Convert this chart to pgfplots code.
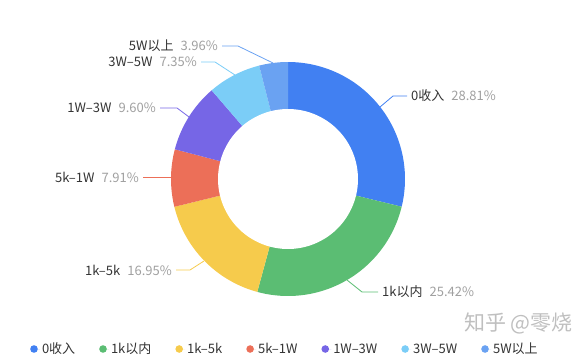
\documentclass[border=0pt]{standalone}
\usepackage{pgfplots}
\pgfplotsset{compat=1.18}
\usepackage{fontspec}
\setmainfont{Noto Sans CJK SC}
\definecolor{c0}{HTML}{4180F2}
\definecolor{c1}{HTML}{5BBD73}
\definecolor{c2}{HTML}{F6CB4C}
\definecolor{c3}{HTML}{EC6F58}
\definecolor{c4}{HTML}{7666E6}
\definecolor{c5}{HTML}{7BCDF7}
\definecolor{c6}{HTML}{6AA2F2}
\definecolor{txt}{HTML}{333333}
\definecolor{pct}{HTML}{A0A0A0}
\newcommand{\lf}{\fontsize{13}{15}\selectfont}
\newcommand{\lab}[2]{{\color{txt}#1}\hspace{7pt}{\color{pct}#2}}
% shares (%): 0收入 28.81, 1k以内 25.42, 1k-5k 16.95, 5k-1W 7.91, 1W-3W 9.60, 3W-5W 7.35, 5W以上 3.96
% cumulative: 28.81, 54.23, 71.18, 79.09, 88.69, 96.04, 100
\begin{document}
\begin{tikzpicture}
\begin{axis}[
  scale only axis, width=576pt, height=356pt,
  xmin=0, xmax=576, ymin=0, ymax=356, y dir=reverse,
  hide axis, clip=false,
  legend columns=-1,
  legend image code/.code={\fill (0pt,0pt) circle (3.8pt); \path (-3.8pt,0pt) -- (6pt,0pt);},
  legend style={at={(axis cs:27,349)}, anchor=west, draw=none, fill=none,
    font=\lf, text=txt,
    /tikz/every even column/.append style={column sep=22pt}},
]
\addplot[fill=c0, draw=none, domain=0:3.6*28.81, samples=80] ({288+117*sin(x)},{179-117*cos(x)}) -- (axis cs:288,179) -- cycle;
\addlegendentry{0收入}
\addplot[fill=c1, draw=none, domain=3.6*28.81:3.6*54.23, samples=80] ({288+117*sin(x)},{179-117*cos(x)}) -- (axis cs:288,179) -- cycle;
\addlegendentry{1k以内}
\addplot[fill=c2, draw=none, domain=3.6*54.23:3.6*71.18, samples=60] ({288+117*sin(x)},{179-117*cos(x)}) -- (axis cs:288,179) -- cycle;
\addlegendentry{1k–5k}
\addplot[fill=c3, draw=none, domain=3.6*71.18:3.6*79.09, samples=40] ({288+117*sin(x)},{179-117*cos(x)}) -- (axis cs:288,179) -- cycle;
\addlegendentry{5k–1W}
\addplot[fill=c4, draw=none, domain=3.6*79.09:3.6*88.69, samples=40] ({288+117*sin(x)},{179-117*cos(x)}) -- (axis cs:288,179) -- cycle;
\addlegendentry{1W–3W}
\addplot[fill=c5, draw=none, domain=3.6*88.69:3.6*96.04, samples=40] ({288+117*sin(x)},{179-117*cos(x)}) -- (axis cs:288,179) -- cycle;
\addlegendentry{3W–5W}
\addplot[fill=c6, draw=none, domain=3.6*96.04:3.6*100, samples=30] ({288+117*sin(x)},{179-117*cos(x)}) -- (axis cs:288,179) -- cycle;
\addlegendentry{5W以上}
\addplot[fill=white, draw=none, domain=0:360, samples=120, forget plot] ({288+70*sin(x)},{179-70*cos(x)}) -- cycle;

% leader lines
\draw[c0, line width=0.8pt] (axis cs:380,107) -- (axis cs:393,96) -- (axis cs:407,96);
\draw[c1, line width=0.8pt] (axis cs:347,280) -- (axis cs:362,292) -- (axis cs:378,292);
\draw[c2, line width=0.8pt] (axis cs:204,261) -- (axis cs:190,270) -- (axis cs:176,270);
\draw[c3, line width=0.8pt] (axis cs:172,177) -- (axis cs:143,177);
\draw[c4, line width=0.8pt] (axis cs:189,117) -- (axis cs:177,108) -- (axis cs:160,108);
\draw[c5, line width=0.8pt] (axis cs:235,75) -- (axis cs:215,62) -- (axis cs:201,62);
\draw[c6, line width=0.8pt] (axis cs:273,63) -- (axis cs:238,46) -- (axis cs:222,46);

% labels
\node[anchor=west, inner sep=0pt, font=\lf] at (axis cs:411,96) {\lab{0收入}{28.81\%}};
\node[anchor=west, inner sep=0pt, font=\lf] at (axis cs:382,292) {\lab{1k以内}{25.42\%}};
\node[anchor=east, inner sep=0pt, font=\lf] at (axis cs:172,270) {\lab{1k–5k}{16.95\%}};
\node[anchor=east, inner sep=0pt, font=\lf] at (axis cs:139,177) {\lab{5k–1W}{7.91\%}};
\node[anchor=east, inner sep=0pt, font=\lf] at (axis cs:156,108) {\lab{1W–3W}{9.60\%}};
\node[anchor=east, inner sep=0pt, font=\lf] at (axis cs:197,62) {\lab{3W–5W}{7.35\%}};
\node[anchor=east, inner sep=0pt, font=\lf] at (axis cs:218,46) {\lab{5W以上}{3.96\%}};

% watermark
\node[anchor=west, inner sep=0pt, text=black!25, font=\fontsize{21}{24}\selectfont] at (axis cs:464,323) {知乎 @零烧};

\coordinate (BL) at (axis cs:0,356);
\coordinate (TR) at (axis cs:576,0);
\end{axis}
\pgfresetboundingbox
\path (BL) rectangle (TR);
\end{tikzpicture}
\end{document}
